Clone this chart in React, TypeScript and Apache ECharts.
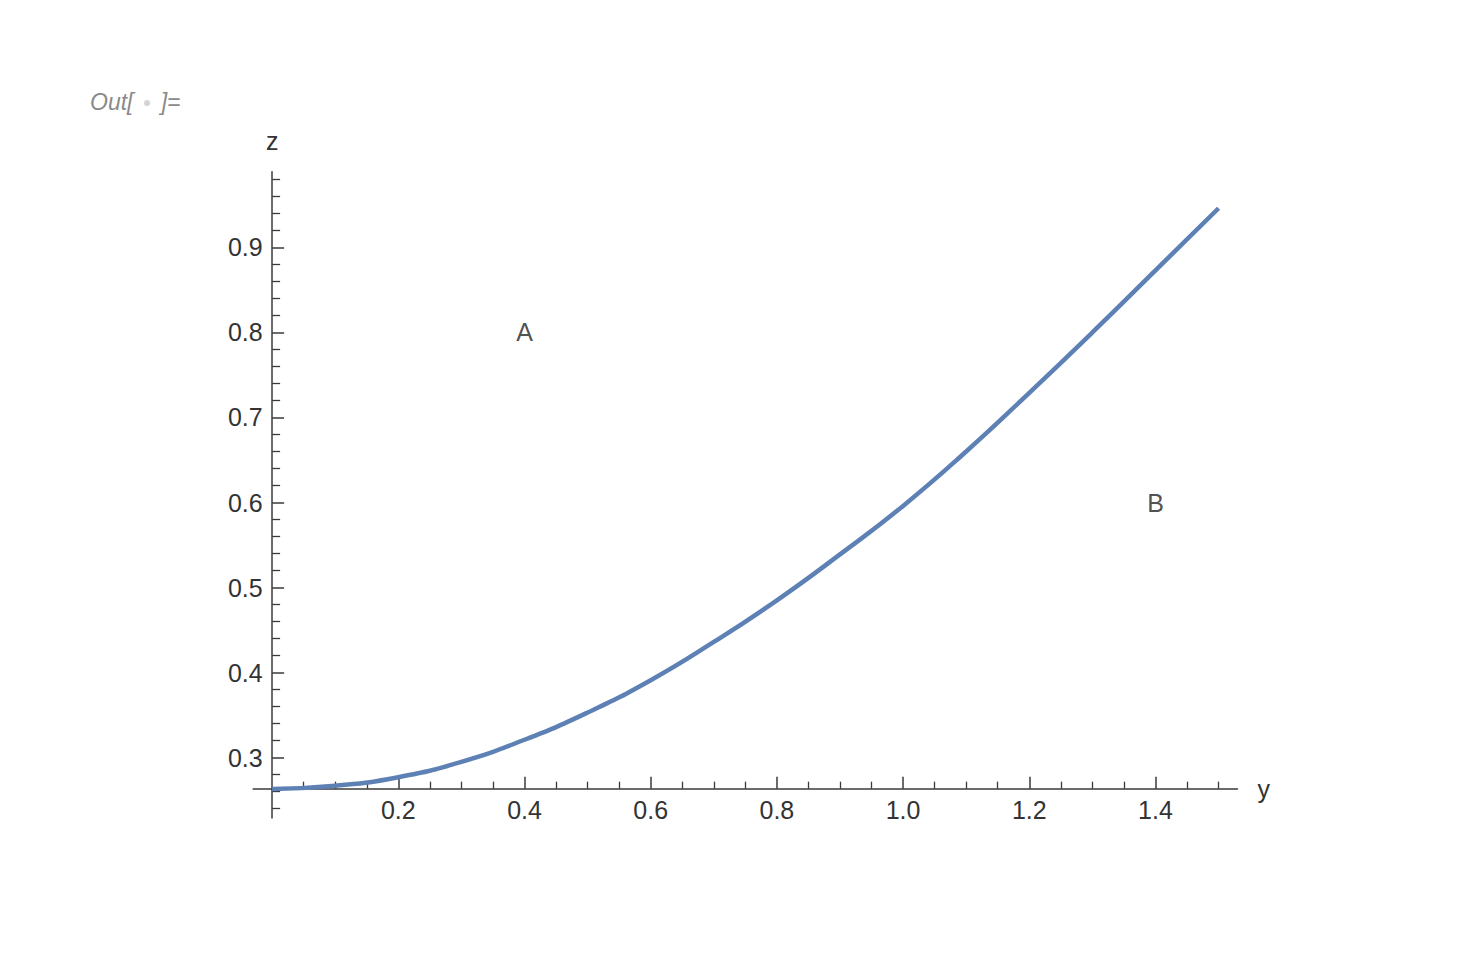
import React, { useEffect, useRef } from "react";
import * as echarts from "echarts";

// Curve: y (horizontal) and z (vertical) values
const yValues = [0, 0.1, 0.2, 0.3, 0.4, 0.5, 0.6, 0.7, 0.8, 0.9, 1.0, 1.1, 1.2, 1.3, 1.4, 1.5];
const zValues = [0.263, 0.267, 0.277, 0.295, 0.321, 0.353, 0.391, 0.436, 0.485, 0.539, 0.596, 0.66, 0.729, 0.8, 0.873, 0.946];

// Region labels
const regionLabels = ["A", "B"];
const regionY = [0.4, 1.4];
const regionZ = [0.8, 0.6];

// Axis ranges
const yRange = [-0.03, 1.53];
const zRange = [0.229, 0.989];
const zAxisCross = 0.2635; // z value where horizontal axis crosses

// Ticks
const xMajorTicks = [0.2, 0.4, 0.6, 0.8, 1.0, 1.2, 1.4];
const xMinorTicks = [0.05, 0.1, 0.15, 0.25, 0.3, 0.35, 0.45, 0.5, 0.55, 0.65, 0.7, 0.75, 0.85, 0.9, 0.95, 1.05, 1.1, 1.15, 1.25, 1.3, 1.35, 1.45, 1.5];
const zMajorTicks = [0.3, 0.4, 0.5, 0.6, 0.7, 0.8, 0.9];
const zMinorTicks = [0.24, 0.26, 0.28, 0.32, 0.34, 0.36, 0.38, 0.42, 0.44, 0.46, 0.48, 0.52, 0.54, 0.56, 0.58, 0.62, 0.64, 0.66, 0.68, 0.72, 0.74, 0.76, 0.78, 0.82, 0.84, 0.86, 0.88, 0.92, 0.94, 0.96, 0.98];

const FONT = '"Liberation Sans", Arial, sans-serif';
const AXIS_COLOR = "#3a3a3a";
const TEXT_COLOR = "#333333";

export default function App() {
  const ref = useRef<HTMLDivElement>(null);

  useEffect(() => {
    if (!ref.current) return;
    const chart = echarts.init(ref.current, null, { renderer: "svg" });

    const lineData = yValues.map((y, i) => [y, zValues[i]]);
    const labelData = regionLabels.map((t, i) => [regionY[i], regionZ[i], t]);

    const option: any = {
      animation: false,
      backgroundColor: "#ffffff",
      grid: {
        left: 253.2,
        right: 230.5,
        top: 171.7,
        bottom: 159,
        containLabel: false,
        outerBoundsMode: "none",
      },
      graphic: [
        {
          type: "text",
          left: 90,
          top: 90,
          style: {
            text: "Out[ {dot|●} ]=",
            font: `italic 23px ${FONT}`,
            fill: "#8a8a8a",
            rich: {
              dot: { fontSize: 14, fill: "#d4d4d4", fontStyle: "normal", fontFamily: FONT, padding: [0, 3, 0, 3] },
            },
          },
        },
      ],
      xAxis: [
        {
          type: "value",
          position: "bottom",
          min: yRange[0],
          max: yRange[1],
          name: "y",
          nameLocation: "end",
          nameGap: 20,
          nameTextStyle: { fontSize: 25, color: TEXT_COLOR, fontFamily: FONT, padding: [0, 0, 8, 0] },
          axisLine: { show: true, onZero: true, onZeroAxisIndex: 2, lineStyle: { color: AXIS_COLOR, width: 1.5 } },
          axisTick: { show: true, inside: true, length: 12, customValues: xMajorTicks, lineStyle: { color: AXIS_COLOR, width: 1.5 } },
          axisLabel: {
            show: true,
            customValues: xMajorTicks,
            margin: -21,
            fontSize: 25,
            color: TEXT_COLOR,
            fontFamily: FONT,
            formatter: (v: number) => v.toFixed(1),
          },
          splitLine: { show: false },
        },
        {
          type: "value",
          position: "bottom",
          min: yRange[0],
          max: yRange[1],
          axisLine: { show: false, onZero: true, onZeroAxisIndex: 2 },
          axisTick: { show: true, inside: true, length: 7, customValues: xMinorTicks, lineStyle: { color: AXIS_COLOR, width: 1.3 } },
          axisLabel: { show: false },
          splitLine: { show: false },
        },
      ],
      yAxis: [
        {
          type: "value",
          position: "left",
          min: zRange[0],
          max: zRange[1],
          name: "z",
          nameLocation: "end",
          nameGap: 18,
          nameTextStyle: { fontSize: 25, color: TEXT_COLOR, fontFamily: FONT, align: "center" },
          axisLine: { show: true, onZero: true, onZeroAxisIndex: 0, lineStyle: { color: AXIS_COLOR, width: 1.5 } },
          axisTick: { show: true, inside: true, length: 12, customValues: zMajorTicks, lineStyle: { color: AXIS_COLOR, width: 1.5 } },
          axisLabel: {
            show: true,
            customValues: zMajorTicks,
            margin: -9.5,
            fontSize: 25,
            color: TEXT_COLOR,
            fontFamily: FONT,
            formatter: (v: number) => v.toFixed(1),
          },
          splitLine: { show: false },
        },
        {
          type: "value",
          position: "left",
          min: zRange[0],
          max: zRange[1],
          axisLine: { show: false, onZero: true, onZeroAxisIndex: 0 },
          axisTick: { show: true, inside: true, length: 8, customValues: zMinorTicks, lineStyle: { color: AXIS_COLOR, width: 1.3 } },
          axisLabel: { show: false },
          splitLine: { show: false },
        },
        {
          type: "value",
          show: false,
          min: zRange[0] - zAxisCross,
          max: zRange[1] - zAxisCross,
          splitLine: { show: false },
        },
      ],
      series: [
        {
          type: "line",
          xAxisIndex: 0,
          yAxisIndex: 0,
          data: lineData,
          smooth: true,
          showSymbol: false,
          symbol: "none",
          lineStyle: { color: "#5e81b5", width: 4.5 },
          z: 5,
        },
        {
          type: "scatter",
          xAxisIndex: 0,
          yAxisIndex: 0,
          data: labelData,
          symbolSize: 0,
          label: {
            show: true,
            position: "inside",
            formatter: (p: any) => p.data[2],
            fontSize: 25,
            color: "#222222",
            fontFamily: FONT,
          },
          silent: true,
        },
      ],
    };

    chart.setOption(option);
    return () => chart.dispose();
  }, []);

  return (
    <div
      ref={ref}
      style={{ position: "fixed", left: 0, top: 0, width: 1468, height: 977, background: "#ffffff" }}
    />
  );
}
